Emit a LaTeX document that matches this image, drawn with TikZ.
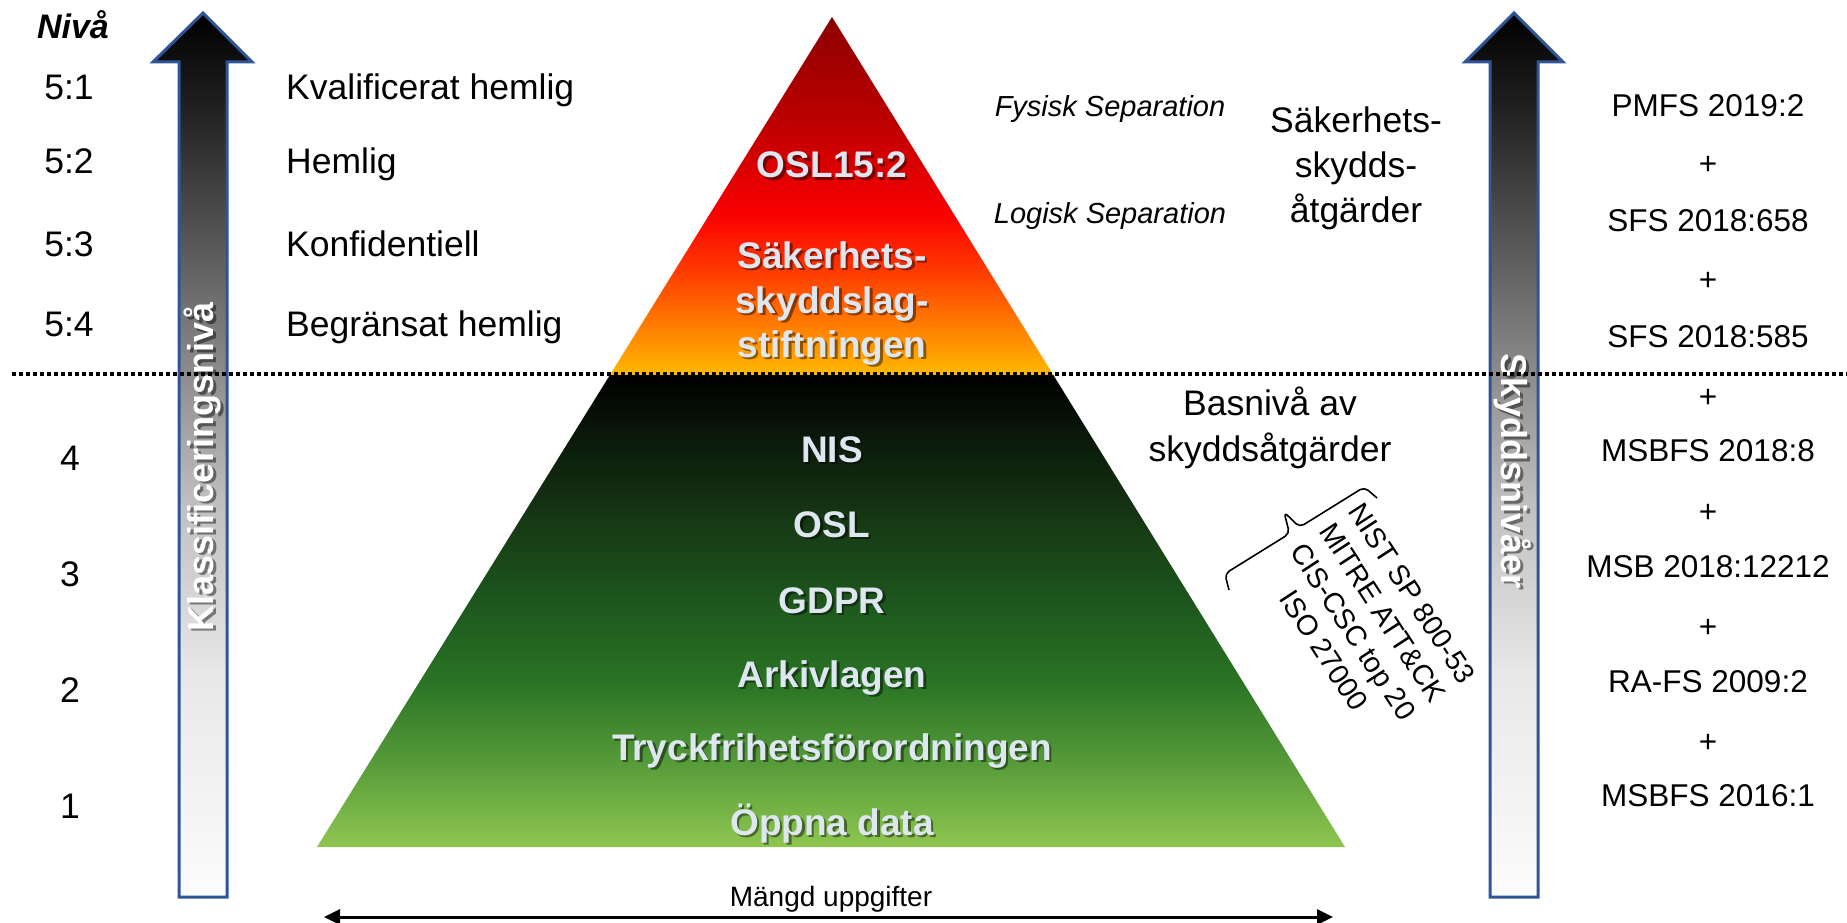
\documentclass[tikz,border=0pt]{standalone}
\usepackage{fontspec}
\setmainfont{Liberation Sans}
\usetikzlibrary{arrows.meta}

\definecolor{tA}{RGB}{140,0,0}
\definecolor{tB}{RGB}{190,0,0}
\definecolor{tC}{RGB}{250,0,0}
\definecolor{tD}{RGB}{255,55,0}
\definecolor{tE}{RGB}{255,120,0}
\definecolor{tF}{RGB}{255,185,0}
\definecolor{gA}{RGB}{0,0,0}
\definecolor{gB}{RGB}{12,28,12}
\definecolor{gC}{RGB}{22,55,20}
\definecolor{gD}{RGB}{30,90,30}
\definecolor{gE}{RGB}{42,115,36}
\definecolor{gF}{RGB}{80,150,55}
\definecolor{gG}{RGB}{142,198,80}
\definecolor{aA}{RGB}{0,0,0}
\definecolor{aB}{RGB}{30,30,30}
\definecolor{aC}{RGB}{120,120,120}
\definecolor{aD}{RGB}{190,190,190}
\definecolor{aE}{RGB}{232,232,232}
\definecolor{aF}{RGB}{252,252,252}
\definecolor{arrowblue}{RGB}{47,85,151}
\definecolor{pyrtext}{RGB}{222,230,240}

\pgfdeclareverticalshading{topshade}{100bp}{color(0bp)=(tF); color(25bp)=(tF); color(32.5bp)=(tE); color(40bp)=(tD); color(47.5bp)=(tC); color(60bp)=(tB); color(75bp)=(tA); color(100bp)=(tA)}
\pgfdeclareverticalshading{botshade}{100bp}{color(0bp)=(gG); color(25bp)=(gG); color(35bp)=(gF); color(42.5bp)=(gE); color(50bp)=(gD); color(60bp)=(gC); color(67.5bp)=(gB); color(75bp)=(gA); color(100bp)=(gA)}
\pgfdeclareverticalshading{arrowshade}{100bp}{color(0bp)=(aF); color(25bp)=(aF); color(37.5bp)=(aE); color(47.5bp)=(aD); color(57.5bp)=(aC); color(70bp)=(aB); color(75bp)=(aA); color(100bp)=(aA)}

\newcommand\pyrlabel[4]{%
  \node[pshadow] (#1-sh) at (#2+2.5,#3+2.5) {#4};
  \node[ptext] (#1) at (#2,#3) {#4};}
\newcommand\arrlabel[5]{%
  \node[alabel, text=black, opacity=0.45, rotate=#4] (#1-sh) at (#2+2.5,#3+2.5) {#5};
  \node[alabel, rotate=#4] (#1) at (#2,#3) {#5};}

\begin{document}
\begin{tikzpicture}[x=1pt,y=-1pt,
  lab/.style={font=\fontsize{35.5}{42}\selectfont, anchor=base, inner sep=0},
  lableft/.style={lab, anchor=base west},
  rcol/.style={font=\fontsize{31.5}{38}\selectfont, anchor=base, inner sep=0},
  sepit/.style={font=\fontsize{29}{34}\selectfont\itshape, anchor=base, inner sep=0},
  ptext/.style={font=\fontsize{37}{44}\selectfont\bfseries, text=pyrtext, anchor=base, inner sep=0},
  pshadow/.style={ptext, text=black, opacity=0.45},
  alabel/.style={font=\fontsize{36}{40}\selectfont\bfseries, text=white, inner sep=0},
  arrowbody/.style={shade, shading=arrowshade, draw=arrowblue, line width=3pt, line join=miter},
  sepline/.style={draw=black, line width=3.5pt, dash pattern=on 4pt off 3pt},
  bracestyle/.style={draw=black, line width=1.6pt, rounded corners=5pt, line join=round},
  nist/.style={font=\fontsize{28.5}{35}\selectfont, align=center, inner sep=0},
  measure/.style={draw=black, line width=3pt, {Triangle[length=16pt,width=15pt]}-{Triangle[length=16pt,width=15pt]}}
]
\useasboundingbox (0,0) rectangle (1847,923);

% big arrows
\path[arrowbody] (203,13) -- (252,62) -- (227,62) -- (227,897) -- (179,897) -- (179,62) -- (153,62) -- cycle;
\path[arrowbody] (1514,13) -- (1563,62) -- (1538,62) -- (1538,897) -- (1490,897) -- (1490,62) -- (1465,62) -- cycle;
\arrlabel{klass}{203}{467}{90}{Klassificeringsnivå}
\arrlabel{skydd}{1513}{471}{-90}{Skyddsnivåer}

% pyramid
\path[shade, shading=topshade] (832,17) -- (1053.3,375) -- (609.9,375) -- cycle;
\path[shade, shading=botshade] (609.9,375) -- (1053.3,375) -- (1345,847) -- (317,847) -- cycle;

% separator
\coordinate (dotL) at (12,374);
\coordinate (dotR) at (1847,374);
\draw[sepline] (dotL) -- (dotR);

% pyramid labels
\pyrlabel{osl152}{832}{178}{OSL15:2}
\pyrlabel{sak1}{832}{268}{Säkerhets-}
\pyrlabel{sak2}{832}{313}{skyddslag-}
\pyrlabel{sak3}{832}{357}{stiftningen}
\pyrlabel{nis}{832}{462}{NIS}
\pyrlabel{osl}{832}{537}{OSL}
\pyrlabel{gdpr}{832}{613}{GDPR}
\pyrlabel{arkiv}{832}{687}{Arkivlagen}
\pyrlabel{tryck}{832}{760}{Tryckfrihetsförordningen}
\pyrlabel{oppna}{832}{835}{Öppna data}

% left column
\node[lab, font=\fontsize{34}{40}\selectfont\bfseries\itshape] (niva) at (73,39) {Nivå};
\node[lab] (n51) at (69,100) {5:1};
\node[lab] (n52) at (69,173) {5:2};
\node[lab] (n53) at (69,256) {5:3};
\node[lab] (n54) at (69,336) {5:4};
\node[lab] (n4) at (70,470) {4};
\node[lab] (n3) at (70,586) {3};
\node[lab] (n2) at (70,702) {2};
\node[lab] (n1) at (70,818) {1};
\node[lableft] (l51) at (286,100) {Kvalificerat hemlig};
\node[lableft] (l52) at (286,173) {Hemlig};
\node[lableft] (l53) at (286,256) {Konfidentiell};
\node[lableft] (l54) at (286,336) {Begränsat hemlig};

% middle texts
\node[sepit] (fysisk) at (1110,117) {Fysisk Separation};
\node[sepit] (logisk) at (1110,223) {Logisk Separation};
\node[lab] (sk1) at (1356,132) {Säkerhets-};
\node[lab] (sk2) at (1356,177) {skydds-};
\node[lab] (sk3) at (1356,222) {åtgärder};
\node[lab] (bas1) at (1270,415) {Basnivå av};
\node[lab] (bas2) at (1270,461) {skyddsåtgärder};

% brace and standards
\coordinate (br0) at (1229,590);
\coordinate (br1) at (1224.8,573.8);
\coordinate (br2) at (1289.5,533.6);
\coordinate (br3) at (1284,512);
\coordinate (br4) at (1299.6,527.2);
\coordinate (br5) at (1364.3,487);
\coordinate (br6) at (1377,498);
\draw[bracestyle] (br0) -- (br1) -- (br2) -- (br3) -- (br4) -- (br5) -- (br6);
\node[nist, rotate=-57] (nist) at (1368,622) {NIST SP 800-53\\MITRE ATT\&CK\\CIS-CSC top 20\\ISO 27000};

% right column
\node[rcol] (r1) at (1708,117) {PMFS 2019:2};
\node[rcol] (p1) at (1708,175) {+};
\node[rcol] (r2) at (1708,231) {SFS 2018:658};
\node[rcol] (p2) at (1708,290) {+};
\node[rcol] (r3) at (1708,347) {SFS 2018:585};
\node[rcol] (p3) at (1708,407) {+};
\node[rcol] (r4) at (1708,461) {MSBFS 2018:8};
\node[rcol] (p4) at (1708,522) {+};
\node[rcol] (r5) at (1708,577) {MSB 2018:12212};
\node[rcol] (p5) at (1708,637) {+};
\node[rcol] (r6) at (1708,692) {RA-FS 2009:2};
\node[rcol] (p6) at (1708,752) {+};
\node[rcol] (r7) at (1708,806) {MSBFS 2016:1};

% bottom measure
\node[lab, font=\fontsize{28}{32}\selectfont] (mangd) at (831,906) {Mängd uppgifter};
\coordinate (mL) at (324,917);
\coordinate (mR) at (1333,917);
\draw[measure] (mL) -- (mR);
\end{tikzpicture}
\end{document}
